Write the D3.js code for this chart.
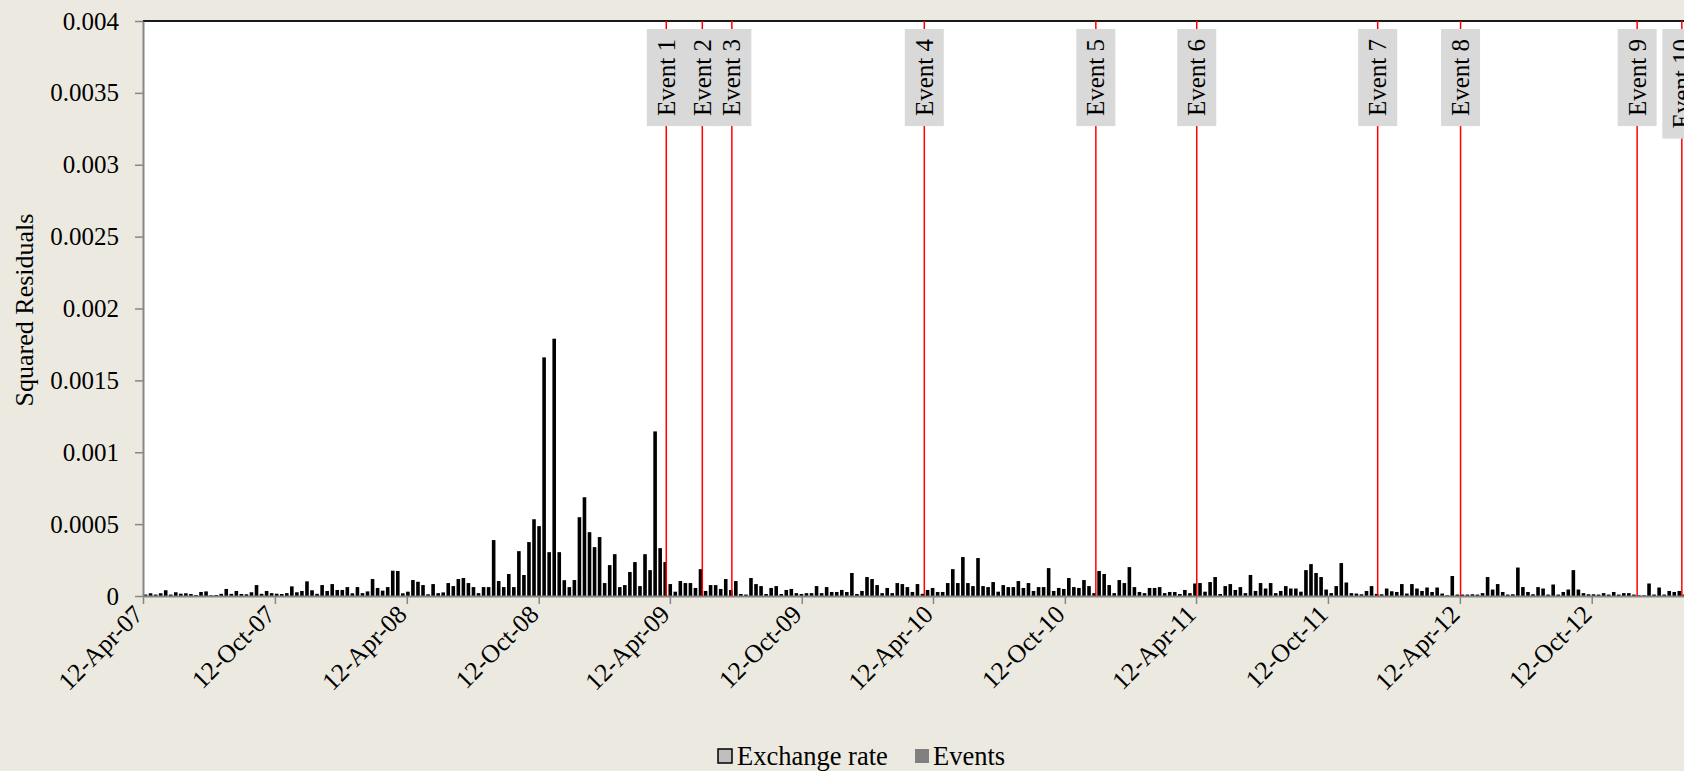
<!DOCTYPE html>
<html>
<head>
<meta charset="utf-8">
<script src="https://cdn.jsdelivr.net/npm/d3@7"></script>
<style>
  html, body { margin: 0; padding: 0; background: #eceae0; }
  svg { display: block; }
  text { font-family: "Liberation Serif", "Times New Roman", serif; fill: #000; }
</style>
</head>
<body>
<svg id="chart" width="1684" height="771"></svg>
<script>
// ---------------- DATA ----------------
// Weekly squared residuals (units of 1e-5), week i starts at 2007-04-12 + 7*i days
const seriesStart = "2007-04-12";
const residuals = [
  1, 1.9, 1, 1.9, 4, 1, 2.6, 1.6, 1.9, 1.4,
  0.7, 2.8, 3.2, 0.5, 0.7, 1.5, 4.9, 1.5, 3.5, 1.4,
  1.2, 2.6, 7.6, 1.5, 3.5, 2, 1.6, 1.4, 2, 6.7,
  2.6, 3.5, 10.2, 4, 1.5, 7.6, 3.5, 8.3, 4.2, 4.2,
  6.2, 1.9, 6.2, 2, 3.2, 11.8, 5.6, 3.7, 6.2, 17.6,
  17.4, 1.9, 3, 11.1, 9.9, 7.6, 1.2, 8.3, 2, 2.5,
  9, 6.9, 11.8, 12.5, 9, 6.2, 2, 6.2, 6.2, 38.9,
  10.4, 6.2, 15.3, 6.2, 31.2, 14.6, 37.5, 53.4, 48.6, 166,
  30.5, 179, 30.5, 11, 6.2, 11.1, 54.8, 68.7, 44.4, 34,
  41, 9, 21.5, 29.1, 6.2, 7.6, 16.7, 23.6, 6.9, 29.1,
  18, 114.5, 33.3, 23.6, 8.3, 3, 10.4, 9, 9, 5.6,
  18.7, 3.5, 7.6, 7.6, 4.9, 11.8, 4.2, 10.4, 1.4, 1,
  12.5, 8.3, 6.9, 1.4, 5.6, 6.9, 1.4, 4.2, 4.9, 2,
  1.4, 2, 2, 6.9, 2, 6.2, 2.8, 2.8, 4.2, 2.8,
  16, 1.4, 3.5, 13.2, 11.8, 7.6, 2, 5.6, 2, 9,
  8.3, 6.2, 2.8, 8.3, 1.5, 4.2, 5.6, 2.8, 2.8, 9,
  18.7, 9, 27.1, 9, 6.9, 26.4, 6.9, 6.2, 9.7, 3,
  7.6, 6.2, 6.2, 10.4, 5.6, 9, 3.5, 6.2, 6.2, 19.4,
  3.5, 5.6, 4.9, 12.5, 6.2, 5.6, 11.1, 6.9, 2, 17.4,
  15.3, 7.6, 2, 11.1, 9, 20.1, 6.2, 2.8, 2, 5.6,
  5.6, 6.2, 2, 2.8, 2.8, 1.4, 4.2, 2, 8.7, 9,
  3, 9.7, 13.2, 1.4, 6.9, 8.3, 4.2, 6.2, 2, 14.6,
  3.5, 9, 5.2, 9, 2, 3.5, 6.9, 5.2, 5.2, 3,
  18, 22.2, 16, 13.2, 4.5, 2, 6.9, 22.9, 9.4, 2,
  1.7, 1.2, 3.5, 6.9, 1.5, 1.2, 5.2, 3.3, 2.8, 8.3,
  1.7, 8.3, 5.2, 3.5, 5.9, 2.8, 5.9, 1.7, 0.5, 13.9,
  1, 1, 1, 1.2, 1, 2, 13.2, 4.5, 8.3, 2.8,
  1, 1.2, 19.8, 6.2, 2.8, 1.2, 6.2, 5.2, 1, 8,
  1, 2.8, 4.5, 18, 4.5, 2, 1.2, 1.2, 1, 2,
  1, 2.8, 1, 2, 2, 1, 0.5, 0.5, 8.7, 1,
  5.9, 1, 3.5, 2.8, 3.5, 1
];
const valueUnit = 1e-5;

const eventNames = ["Event 1","Event 2","Event 3","Event 4","Event 5","Event 6","Event 7","Event 8","Event 9","Event 10"];
const eventDates = ["2009-04-07","2009-05-27","2009-07-07","2010-03-31","2010-11-24","2011-04-13","2011-12-20","2012-04-13","2012-12-14","2013-02-14"];

const xTickDates = ["2007-04-12","2007-10-12","2008-04-12","2008-10-12","2009-04-12","2009-10-12",
                    "2010-04-12","2010-10-12","2011-04-12","2011-10-12","2012-04-12","2012-10-12"];
const yTicks = [0, 0.0005, 0.001, 0.0015, 0.002, 0.0025, 0.003, 0.0035, 0.004];
const yTickLabels = ["0","0.0005","0.001","0.0015","0.002","0.0025","0.003","0.0035","0.004"];
const xDomain = ["2007-04-12", "2013-02-17"];
const yTitle = "Squared Residuals";
const legendItems = ["Exchange rate", "Events"];

// ---------------- CHART ----------------
const parse = d3.timeParse("%Y-%m-%d");
const W = 1684, H = 771;
const m = { left: 143, top: 21, right: 1684, bottom: 596 };

const svg = d3.select("#chart");
svg.append("rect").attr("width", W).attr("height", H).attr("fill", "#eceae0");
svg.append("rect").attr("x", m.left).attr("y", m.top)
  .attr("width", m.right - m.left).attr("height", m.bottom - m.top).attr("fill", "#ffffff");

const x = d3.scaleTime().domain(xDomain.map(parse)).range([m.left, m.right]);
const y = d3.scaleLinear().domain([0, 0.004]).range([m.bottom, m.top]);

const start = parse(seriesStart);
const data = residuals.map((v, i) => ({ date: d3.timeDay.offset(start, 7 * i), value: v * valueUnit }));

svg.append("clipPath").attr("id", "clip").append("rect")
  .attr("x", m.left).attr("y", m.top).attr("width", m.right - m.left).attr("height", m.bottom - m.top);

const weekPx = x(d3.timeDay.offset(start, 7)) - x(start);
const barW = 3.6;
svg.append("g").attr("clip-path", "url(#clip)")
  .selectAll("rect").data(data).join("rect")
  .attr("x", d => x(d.date) + weekPx / 2 - barW / 2)
  .attr("y", d => y(d.value))
  .attr("width", barW)
  .attr("height", d => y(0) - y(d.value))
  .attr("fill", "#000");

// top border
svg.append("line").attr("x1", m.left).attr("x2", m.right).attr("y1", m.top).attr("y2", m.top)
  .attr("stroke", "#1a1a1a").attr("stroke-width", 2);

// y axis
const yAxis = svg.append("g").attr("transform", `translate(${m.left},0)`)
  .call(d3.axisLeft(y).tickValues(yTicks).tickFormat((d, i) => yTickLabels[i]).tickSize(8).tickSizeOuter(0).tickPadding(16));
yAxis.select(".domain").attr("stroke", "#868686").attr("stroke-width", 2);
yAxis.selectAll(".tick line").attr("stroke", "#868686").attr("stroke-width", 1.5);
yAxis.selectAll(".tick text").style("font-size", "25px").attr("fill", "#000")
  .style("font-family", '"Liberation Serif", serif');

// x axis
const xTicks = xTickDates.map(parse);
const xAxis = svg.append("g").attr("transform", `translate(0,${m.bottom})`)
  .call(d3.axisBottom(x).tickValues(xTicks).tickFormat(d3.timeFormat("%d-%b-%y")).tickSize(8).tickSizeOuter(0));
xAxis.select(".domain").attr("stroke", "#868686").attr("stroke-width", 2);
xAxis.selectAll(".tick line").attr("stroke", "#868686").attr("stroke-width", 1.5);
xAxis.selectAll(".tick text")
  .style("font-size", "25.5px").style("font-family", '"Liberation Serif", serif').attr("fill", "#000")
  .attr("text-anchor", "end")
  .attr("dy", null).attr("y", null)
  .attr("transform", "translate(1,20) rotate(-45)");

// y title
svg.append("text")
  .attr("transform", `translate(33,310) rotate(-90)`)
  .attr("text-anchor", "middle")
  .style("font-size", "26px")
  .text(yTitle);

// events
const evG = svg.append("g");
eventNames.forEach((name, i) => {
  const ex = x(parse(eventDates[i]));
  evG.append("line").attr("x1", ex).attr("x2", ex).attr("y1", m.top).attr("y2", m.bottom)
    .attr("stroke", "#ff0000").attr("stroke-width", 1.5);
});
eventNames.forEach((name, i) => {
  const ex = x(parse(eventDates[i]));
  const g = evG.append("g");
  const t = g.append("text")
    .attr("transform", `translate(${ex},39) rotate(-90)`)
    .attr("text-anchor", "end")
    .attr("dy", "0.34em")
    .style("font-size", "25px")
    .text(name);
  const len = t.node().getComputedTextLength();
  g.insert("rect", "text")
    .attr("x", ex - 19.5).attr("y", 29)
    .attr("width", 39).attr("height", len + 20)
    .attr("fill", "#d9d9d9");
});

// legend
const lg = svg.append("g");
lg.append("rect").attr("x", 718).attr("y", 749).attr("width", 14).attr("height", 14)
  .attr("fill", "#bfbfbf").attr("stroke", "#000").attr("stroke-width", 1.5);
lg.append("text").attr("x", 737).attr("y", 765).style("font-size", "26.5px").text(legendItems[0]);
lg.append("rect").attr("x", 915).attr("y", 749).attr("width", 14).attr("height", 14)
  .attr("fill", "#808080");
lg.append("text").attr("x", 933).attr("y", 765).style("font-size", "26.5px").text(legendItems[1]);
</script>
</body>
</html>
